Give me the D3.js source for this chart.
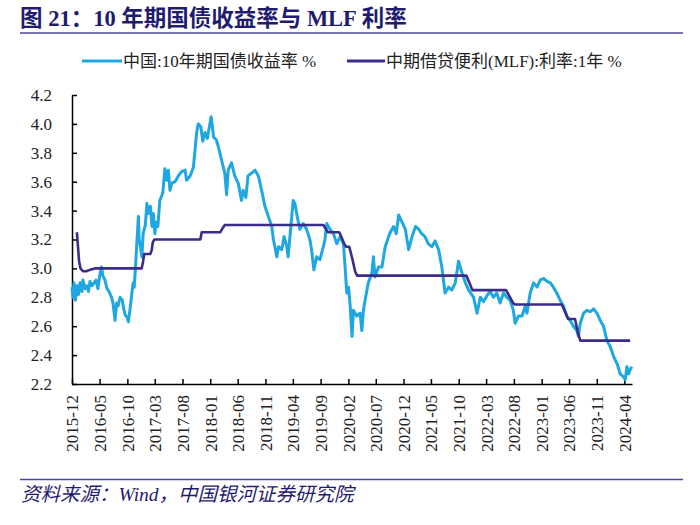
<!DOCTYPE html>
<html><head><meta charset="utf-8">
<script src="https://cdn.jsdelivr.net/npm/d3@7/dist/d3.min.js"></script>
<style>
html,body{margin:0;padding:0;background:#fff;}
svg{display:block;}
</style></head>
<body><svg id="c" width="700" height="525"></svg>
<script>
const titleText = "图 21：10 年期国债收益率与 MLF 利率";
const sourceText = "资料来源：Wind，中国银河证券研究院";
const seriesNames = ["中国:10年期国债收益率 %", "中期借贷便利(MLF):利率:1年 %"];

const yieldDates = ["2015-12-01","2015-12-06","2015-12-12","2015-12-20","2015-12-28","2016-01-06","2016-01-14","2016-01-25","2016-01-30","2016-02-11","2016-02-22","2016-03-01","2016-03-09","2016-03-20","2016-04-01","2016-04-11","2016-04-22","2016-05-03","2016-05-12","2016-05-19","2016-05-30","2016-06-11","2016-06-22","2016-07-06","2016-07-14","2016-07-25","2016-08-03","2016-08-11","2016-08-22","2016-09-03","2016-09-11","2016-09-19","2016-09-30","2016-10-07","2016-10-16","2016-10-27","2016-11-02","2016-11-08","2016-11-19","2016-12-01","2016-12-05","2016-12-10","2016-12-20","2016-12-27","2017-01-08","2017-01-17","2017-01-24","2017-02-05","2017-02-14","2017-02-21","2017-03-02","2017-03-08","2017-03-18","2017-03-29","2017-04-14","2017-04-26","2017-05-06","2017-05-15","2017-05-24","2017-06-03","2017-06-21","2017-07-09","2017-07-27","2017-08-15","2017-08-24","2017-09-12","2017-09-30","2017-10-09","2017-10-18","2017-10-27","2017-11-10","2017-11-21","2017-12-03","2017-12-16","2017-12-27","2018-01-06","2018-01-19","2018-02-03","2018-02-15","2018-03-04","2018-03-22","2018-04-01","2018-04-10","2018-04-28","2018-05-16","2018-06-04","2018-06-22","2018-07-01","2018-07-16","2018-07-28","2018-08-17","2018-09-05","2018-09-23","2018-10-11","2018-10-29","2018-11-17","2018-12-06","2018-12-15","2019-01-03","2019-01-12","2019-01-30","2019-02-12","2019-02-27","2019-03-06","2019-03-21","2019-04-03","2019-04-12","2019-04-25","2019-05-10","2019-05-28","2019-06-16","2019-07-04","2019-07-13","2019-07-26","2019-08-10","2019-08-28","2019-09-16","2019-09-25","2019-10-05","2019-10-23","2019-11-11","2019-11-29","2019-12-17","2020-01-05","2020-01-14","2020-01-23","2020-02-02","2020-02-11","2020-02-21","2020-02-29","2020-03-18","2020-04-06","2020-04-15","2020-04-24","2020-05-03","2020-05-21","2020-06-10","2020-06-18","2020-06-27","2020-07-16","2020-08-04","2020-08-22","2020-09-10","2020-09-19","2020-10-07","2020-10-22","2020-11-04","2020-11-23","2020-12-11","2020-12-29","2021-01-17","2021-02-05","2021-02-23","2021-03-11","2021-03-29","2021-04-17","2021-05-06","2021-05-24","2021-06-12","2021-06-30","2021-07-09","2021-07-18","2021-08-06","2021-08-24","2021-09-12","2021-09-30","2021-10-19","2021-11-07","2021-11-25","2021-12-22","2022-01-10","2022-01-28","2022-02-16","2022-03-05","2022-03-23","2022-04-10","2022-04-29","2022-05-17","2022-06-05","2022-06-23","2022-07-11","2022-07-29","2022-08-08","2022-08-26","2022-09-15","2022-10-03","2022-10-12","2022-10-30","2022-11-18","2022-12-07","2022-12-25","2023-01-12","2023-01-31","2023-02-18","2023-03-07","2023-03-25","2023-04-13","2023-05-01","2023-05-20","2023-06-07","2023-06-25","2023-07-14","2023-07-23","2023-08-02","2023-08-20","2023-09-08","2023-09-26","2023-10-14","2023-11-02","2023-11-20","2023-12-08","2023-12-27","2024-01-14","2024-02-02","2024-02-21","2024-03-09","2024-03-27","2024-04-06","2024-04-15","2024-04-24","2024-05-03","2024-05-12"];
const yieldValues = [2.87,2.80,2.90,2.78,2.88,2.82,2.90,2.84,2.92,2.86,2.88,2.84,2.91,2.88,2.90,2.92,2.86,2.96,3.01,2.95,2.92,2.86,2.84,2.80,2.76,2.64,2.76,2.74,2.80,2.78,2.72,2.68,2.66,2.63,2.72,2.84,2.90,2.87,3.10,3.36,3.20,3.17,3.08,3.24,3.30,3.45,3.38,3.43,3.29,3.38,3.24,3.32,3.29,3.47,3.52,3.69,3.61,3.68,3.54,3.59,3.60,3.64,3.67,3.68,3.61,3.64,3.70,3.82,3.94,4.00,3.98,3.88,3.94,3.90,3.98,4.05,3.91,3.89,3.84,3.75,3.66,3.51,3.68,3.73,3.64,3.59,3.47,3.54,3.49,3.64,3.66,3.68,3.64,3.54,3.43,3.36,3.29,3.20,3.08,3.15,3.13,3.22,3.15,3.08,3.29,3.47,3.45,3.36,3.27,3.31,3.27,3.20,3.13,2.99,3.08,3.06,3.15,3.20,3.31,3.27,3.24,3.17,3.22,3.17,3.01,2.83,2.87,2.74,2.53,2.71,2.67,2.69,2.57,2.71,2.78,2.90,2.97,3.08,2.94,3.01,3.01,3.15,3.22,3.25,3.29,3.24,3.37,3.32,3.27,3.13,3.22,3.29,3.27,3.24,3.22,3.17,3.15,3.19,3.13,3.01,2.92,2.83,2.87,2.85,2.90,3.05,2.97,2.90,2.85,2.80,2.69,2.80,2.77,2.81,2.84,2.80,2.83,2.76,2.83,2.80,2.78,2.71,2.62,2.67,2.67,2.74,2.69,2.83,2.90,2.87,2.92,2.93,2.91,2.90,2.87,2.83,2.78,2.74,2.67,2.64,2.60,2.57,2.53,2.62,2.69,2.71,2.70,2.72,2.69,2.64,2.60,2.50,2.46,2.39,2.34,2.27,2.25,2.23,2.32,2.27,2.30,2.32];

const mlfDates = ["2015-12-28","2016-01-03","2016-01-09","2016-01-17","2016-01-30","2016-02-17","2016-03-09","2016-04-06","2016-12-19","2016-12-27","2017-01-02","2017-02-05","2017-02-13","2017-02-18","2017-02-27","2017-11-07","2017-11-15","2018-02-25","2018-03-06","2018-03-22","2019-09-17","2019-10-01","2019-10-12","2019-12-01","2019-12-12","2019-12-17","2020-01-09","2020-01-20","2020-02-06","2020-02-22","2020-03-09","2020-03-20","2021-11-12","2021-11-29","2021-12-15","2022-06-19","2022-07-11","2022-07-28","2022-08-08","2023-04-22","2023-05-10","2023-05-27","2023-07-04","2023-07-21","2023-08-02","2024-05-03"];
const mlfValues = [3.25,3.15,3.05,3.00,2.98,2.98,2.99,3.00,3.00,3.05,3.10,3.10,3.13,3.18,3.20,3.20,3.25,3.25,3.27,3.30,3.30,3.27,3.25,3.25,3.25,3.24,3.17,3.15,3.15,3.07,2.98,2.95,2.95,2.90,2.85,2.85,2.80,2.76,2.75,2.75,2.70,2.65,2.65,2.55,2.50,2.50];

const xTickLabels = ["2015-12","2016-05","2016-10","2017-03","2017-08","2018-01","2018-06","2018-11","2019-04","2019-09","2020-02","2020-07","2020-12","2021-05","2021-10","2022-03","2022-08","2023-01","2023-06","2023-11","2024-04"];
const yTicks = [2.2,2.4,2.6,2.8,3.0,3.2,3.4,3.6,3.8,4.0,4.2];
const xDomain = ["2015-12-01","2024-05-13"];

const colors = {yield:"#1ea7e1", mlf:"#3a2c88", navy:"#1f1b70", rule:"#4b4a98"};
const serif = "'Liberation Serif','Times New Roman','Noto Sans CJK SC',serif";
const cjk = "'Liberation Serif','Noto Sans CJK SC',sans-serif";

const parse = d3.timeParse("%Y-%m-%d");
const parseM = d3.timeParse("%Y-%m");
const svg = d3.select("#c");

const L = 72, R = 632, T = 95, B = 384;
const x = d3.scaleTime().domain(xDomain.map(parse)).range([L, R]);
const y = d3.scaleLinear().domain([2.2, 4.2]).range([B, T]);

// title
svg.append("text").attr("x", 20).attr("y", 26)
  .attr("font-family", cjk).attr("font-weight", "bold").attr("font-size", 22.5)
  .attr("fill", colors.navy).text(titleText);
svg.append("line").attr("x1", 20).attr("x2", 683).attr("y1", 33).attr("y2", 33)
  .attr("stroke", colors.rule).attr("stroke-width", 1.5);

// legend
const leg = [
  {x1: 82, x2: 122, c: colors.yield, t: seriesNames[0]},
  {x1: 347, x2: 385, c: colors.mlf, t: seriesNames[1]}
];
leg.forEach(l => {
  svg.append("line").attr("x1", l.x1).attr("x2", l.x2).attr("y1", 61).attr("y2", 61)
    .attr("stroke", l.c).attr("stroke-width", 3);
  svg.append("text").attr("x", l.x2 + 1).attr("y", 61).attr("dy", "0.35em")
    .attr("font-family", cjk).attr("font-size", 17).attr("fill", "#222").text(l.t);
});

// axes
const yAxis = d3.axisLeft(y).tickValues(yTicks).tickFormat(d3.format(".1f")).tickSizeInner(-5).tickSizeOuter(0).tickPadding(20);
const gy = svg.append("g").attr("transform", `translate(${L},0)`).call(yAxis);
gy.selectAll("text").attr("font-family", serif).attr("font-size", 17).attr("fill", "#222");
gy.selectAll("line").attr("stroke", "#000").attr("stroke-width", 1.5);
gy.select(".domain").attr("stroke", "#000").attr("stroke-width", 1.5);

const xAxis = d3.axisBottom(x).tickValues(xTickLabels.map(parseM)).tickFormat(d3.timeFormat("%Y-%m")).tickSizeInner(-5).tickSizeOuter(0);
const gx = svg.append("g").attr("transform", `translate(0,${B})`).call(xAxis);
gx.selectAll("line").attr("stroke", "#000").attr("stroke-width", 1.5);
gx.select(".domain").attr("stroke", "#000").attr("stroke-width", 1.5);
gx.selectAll("text").attr("font-family", serif).attr("font-size", 17).attr("fill", "#222")
  .attr("text-anchor", "end").attr("transform", "rotate(-90)")
  .attr("x", -11).attr("y", 0).attr("dy", "0.35em");

// lines
const lineGen = d3.line().x(d => x(d[0])).y(d => y(d[1]));
const yieldData = yieldDates.map((d, i) => [parse(d), yieldValues[i]]);
const mlfData = mlfDates.map((d, i) => [parse(d), mlfValues[i]]);
svg.append("path").datum(yieldData).attr("d", lineGen).attr("fill", "none")
  .attr("stroke", colors.yield).attr("stroke-width", 3).attr("stroke-linejoin", "round");
svg.append("path").datum(mlfData).attr("d", lineGen).attr("fill", "none")
  .attr("stroke", colors.mlf).attr("stroke-width", 2.6).attr("stroke-linejoin", "round");

// footer
svg.append("line").attr("x1", 20).attr("x2", 683).attr("y1", 479.5).attr("y2", 479.5)
  .attr("stroke", colors.rule).attr("stroke-width", 1.5);
svg.append("text").attr("x", 21).attr("y", 501)
  .attr("font-family", cjk).attr("font-style", "italic").attr("font-size", 19.5)
  .attr("fill", colors.navy).text(sourceText);
</script></body></html>
